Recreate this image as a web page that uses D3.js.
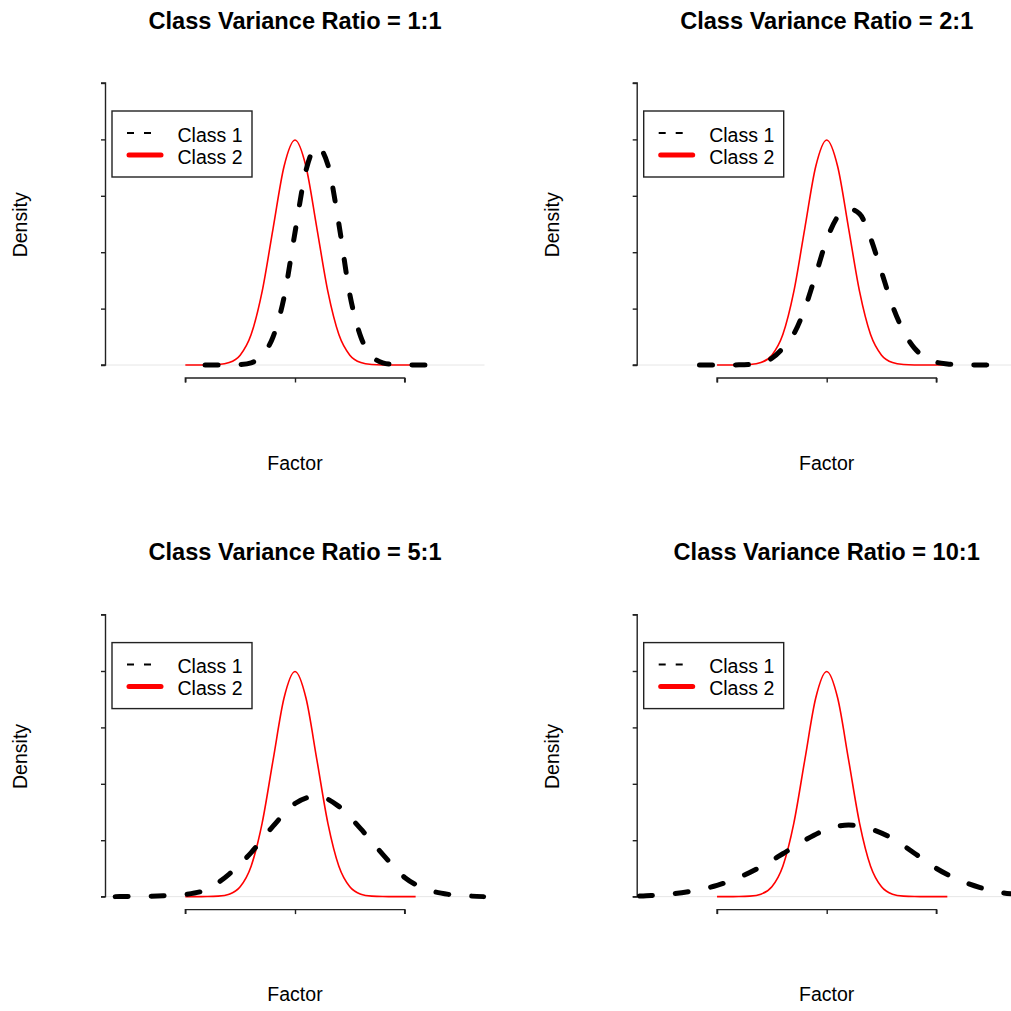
<!DOCTYPE html>
<html>
<head>
<meta charset="utf-8">
<script src="https://cdn.jsdelivr.net/npm/d3@7"></script>
<style>
  body { margin: 0; background: #fff; }
  text { font-family: "Liberation Sans", Arial, Helvetica, sans-serif; fill: #000; }
</style>
</head>
<body>
<div id="chart"></div>
<script>
// Titres des quatre panneaux
const panelTitles = [
    "Class Variance Ratio = 1:1", "Class Variance Ratio = 2:1",
    "Class Variance Ratio = 5:1", "Class Variance Ratio = 10:1"
];
const legendLabels = ["Class 1", "Class 2"];

// Graduations (sans étiquettes)
const xTicks = [-5, 0, 5];
const yTicks = [0, 0.1, 0.2, 0.3, 0.4, 0.5];

// Classe 2 : identique dans les quatre panneaux
const class2X = [-5, -4.5, -4, -3.5, -3, -2.5, -2, -1.5, -1, -0.5, 0, 0.5, 1, 1.5, 2, 2.5, 3, 3.5, 4, 4.5, 5, 5.5];
const class2Y = [0, 0, 0.0001, 0.0009, 0.0044, 0.0175, 0.054, 0.13, 0.242, 0.352, 0.399, 0.352, 0.242, 0.13, 0.054, 0.0175, 0.0044, 0.0009, 0.0001, 0, 0, 0];

// Classe 1 : une densité par rapport de variance
const class1X_1 = [-4.1, -3.5, -3, -2.5, -2, -1.5, -1, -0.5, 0, 0.5, 1, 1.5, 2, 2.5, 3, 3.5, 4, 4.5, 5, 5.5, 6.3];
const class1Y_1 = [0, 0, 0.0002, 0.001, 0.004, 0.017, 0.05, 0.12, 0.235, 0.345, 0.387, 0.355, 0.25, 0.125, 0.05, 0.016, 0.004, 0.001, 0.0002, 0, 0];

const class1X_2 = [-5.8, -5, -4, -3.5, -3, -2.5, -2, -1.5, -1, -0.5, 0, 0.5, 1, 1.5, 2, 2.5, 3, 3.5, 4, 4.5, 5, 5.5, 6, 7, 7.8];
const class1Y_2 = [0, 0, 0.0003, 0.001, 0.004, 0.012, 0.03, 0.055, 0.1, 0.16, 0.222, 0.263, 0.277, 0.268, 0.225, 0.165, 0.105, 0.06, 0.03, 0.013, 0.005, 0.002, 0.0006, 0.0001, 0];

const class1X_5 = [-8.2, -8, -7, -6, -5, -4, -3, -2, -1, 0, 1, 2, 3, 4, 5, 6, 7, 8, 8.6];
const class1Y_5 = [0, 0.0002, 0.0005, 0.0015, 0.004, 0.013, 0.04, 0.078, 0.125, 0.165, 0.178, 0.16, 0.12, 0.075, 0.034, 0.013, 0.004, 0.001, 0];

const class1X_10 = [-8.54, -8, -7, -6, -5, -4, -3, -2, -1, 0, 1, 2, 3, 4, 5, 6, 7, 8, 8.64];
const class1Y_10 = [0.001, 0.002, 0.005, 0.011, 0.02, 0.034, 0.053, 0.076, 0.1, 0.119, 0.127, 0.12, 0.103, 0.077, 0.05, 0.03, 0.016, 0.007, 0.004];

const class1X = [class1X_1, class1X_2, class1X_5, class1X_10];
const class1Y = [class1Y_1, class1Y_2, class1Y_5, class1Y_10];

// Configuration générale
const width = 1011, height = 1011;
const panelW = 531.7, panelH = 531.6;
const plot = { left: 105.5, right: 484.5, top: 71.7, bottom: 378 };

const svg = d3.select("#chart")
    .append("svg")
    .attr("width", width)
    .attr("height", height);

const xScale = d3.scaleLinear().domain([-8.64, 8.64]).range([plot.left, plot.right]);
const yScale = d3.scaleLinear().domain([-0.023, 0.52]).range([plot.bottom, plot.top]);

const line = d3.line()
    .x(d => xScale(d[0]))
    .y(d => yScale(d[1]))
    .curve(d3.curveMonotoneX);

panelTitles.forEach((title, i) => {
    const g = svg.append("g")
        .attr("transform", `translate(${(i % 2) * panelW},${Math.floor(i / 2) * panelH})`);

    // Ligne zéro grise (comme plot.density)
    g.append("line")
        .attr("x1", plot.left).attr("x2", plot.right)
        .attr("y1", yScale(0)).attr("y2", yScale(0))
        .attr("stroke", "#e6e6e6")
        .attr("stroke-width", 1);

    // Axes sans étiquettes
    const yAxis = d3.axisLeft(yScale).tickValues(yTicks).tickSize(4.5).tickFormat("");
    const yG = g.append("g").attr("transform", `translate(${plot.left},0)`).call(yAxis);
    yG.select(".domain").attr("d", `M-4.5,${yScale(0)}H0V${yScale(0.5)}H-4.5`);

    const xAxis = d3.axisBottom(xScale).tickValues(xTicks).tickSize(4.5).tickFormat("");
    const xG = g.append("g").attr("transform", `translate(0,${plot.bottom})`).call(xAxis);
    xG.select(".domain").attr("d", `M${xScale(-5)},4.5V0H${xScale(5)}V4.5`);

    g.selectAll(".domain, .tick line")
        .attr("stroke", "#222")
        .attr("stroke-width", 1.4);

    // Courbe de la classe 2 (rouge)
    g.append("path")
        .datum(d3.zip(class2X, class2Y))
        .attr("d", line)
        .attr("fill", "none")
        .attr("stroke", "#ff0000")
        .attr("stroke-width", 1.6);

    // Courbe de la classe 1 (noir, tirets épais)
    g.append("path")
        .datum(d3.zip(class1X[i], class1Y[i]))
        .attr("d", line)
        .attr("fill", "none")
        .attr("stroke", "#000")
        .attr("stroke-width", 5)
        .attr("stroke-linecap", "round")
        .attr("stroke-dasharray", "13,23");

    // Titre
    g.append("text")
        .attr("x", (plot.left + plot.right) / 2)
        .attr("y", 28.5)
        .attr("text-anchor", "middle")
        .style("font-size", "23.6px")
        .style("font-weight", "bold")
        .text(title);

    // Labels des axes
    g.append("text")
        .attr("x", (plot.left + plot.right) / 2)
        .attr("y", 469.5)
        .attr("text-anchor", "middle")
        .style("font-size", "19.5px")
        .text("Factor");

    g.append("text")
        .attr("transform", `translate(27,${(plot.top + plot.bottom) / 2}) rotate(-90)`)
        .attr("text-anchor", "middle")
        .style("font-size", "19.5px")
        .text("Density");

    // Légende
    const legend = g.append("g");
    legend.append("rect")
        .attr("x", 112).attr("y", 111)
        .attr("width", 140).attr("height", 66)
        .attr("fill", "#fff")
        .attr("stroke", "#222")
        .attr("stroke-width", 1.4);

    legend.append("line")
        .attr("x1", 127).attr("x2", 152)
        .attr("y1", 133).attr("y2", 133)
        .attr("stroke", "#000")
        .attr("stroke-width", 2)
        .attr("stroke-dasharray", "7,10");

    legend.append("line")
        .attr("x1", 129).attr("x2", 161)
        .attr("y1", 155).attr("y2", 155)
        .attr("stroke", "#ff0000")
        .attr("stroke-width", 5)
        .attr("stroke-linecap", "round");

    legendLabels.forEach((lab, k) => {
        legend.append("text")
            .attr("x", 177.5)
            .attr("y", 141.5 + k * 22)
            .style("font-size", "19.5px")
            .text(lab);
    });
});
</script>
</body>
</html>
